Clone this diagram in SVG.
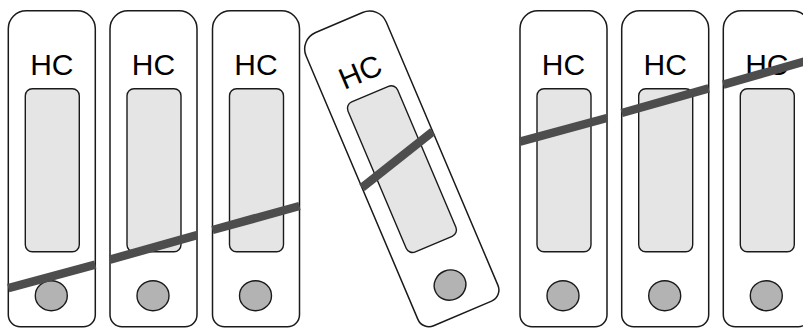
<svg xmlns="http://www.w3.org/2000/svg" width="803" height="328" viewBox="0 0 803 328">
  <style>
    .body { fill: #ffffff; stroke: #1a1a1a; stroke-width: 1.5; }
    .win { fill: #e5e5e5; stroke: #1a1a1a; stroke-width: 1.4; }
    .well { fill: #b3b3b3; stroke: #1a1a1a; stroke-width: 1.4; }
    .lbl { font-family: "Liberation Sans", Arial, sans-serif; font-size: 30px; fill: #000000; text-anchor: middle; }
    .stripe { stroke: #4d4d4d; stroke-width: 8.5; stroke-linecap: butt; fill: none; }
  </style>
  <defs>
    <g id="cassette">
      <path class="body" d="M18,0 H69 A18,18 0 0 1 87,18 V304 A12,12 0 0 1 75,316 H12 A12,12 0 0 1 0,304 V18 A18,18 0 0 1 18,0 Z"/>
      <text class="lbl" x="43.5" y="64">HC</text>
      <rect class="win" x="17" y="78" width="54" height="163" rx="7" ry="7"/>
      <ellipse class="well" cx="43" cy="285" rx="16" ry="15"/>
    </g>
  </defs>
  <g id="card1" transform="translate(8.3,10.7)">
    <use href="#cassette"/>
    <line class="stripe" x1="0" y1="277.5" x2="87" y2="254"/>
  </g>
  <g id="card2" transform="translate(110,10.7)">
    <use href="#cassette"/>
    <line class="stripe" x1="0" y1="249" x2="87" y2="224.5"/>
  </g>
  <g id="card3" transform="translate(212.5,10.7)">
    <use href="#cassette"/>
    <line class="stripe" x1="0" y1="219.3" x2="87" y2="195.3"/>
  </g>
  <g id="card4" transform="translate(299.1,39.5) rotate(-23)">
    <use href="#cassette"/>
    <line class="stripe" x1="0" y1="161" x2="87" y2="137"/>
  </g>
  <g id="card5" transform="translate(520,10.7)">
    <use href="#cassette"/>
    <line class="stripe" x1="0" y1="131" x2="87" y2="107.3"/>
  </g>
  <g id="card6" transform="translate(621.7,10.7)">
    <use href="#cassette"/>
    <line class="stripe" x1="0" y1="102.3" x2="87" y2="77.7"/>
  </g>
  <g id="card7" transform="translate(723.3,10.7)">
    <use href="#cassette"/>
    <line class="stripe" x1="0" y1="74" x2="87" y2="49"/>
  </g>
</svg>
